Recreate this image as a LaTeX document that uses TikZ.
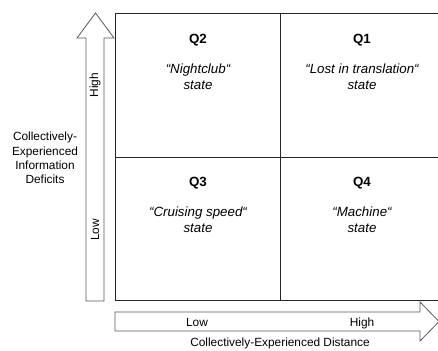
\documentclass[tikz,border=0pt]{standalone}
\usepackage{fontspec}
\setmainfont{Liberation Sans}
\tikzset{
  grid line/.style={black!85, line width=0.6pt},
  axis arrow/.style={black!65, line width=0.6pt},
  quad/.style={font=\bfseries},
  statetext/.style={font=\itshape, align=center},
}
\begin{document}
\begin{tikzpicture}[x=0.75pt,y=-0.75pt,font=\fontsize{8.9}{10.8}\selectfont]
\useasboundingbox (0,0) rectangle (438,350);

% matrix
\draw[grid line] (115,13) rectangle (446,300);
\draw[grid line] (280,13) -- (280,300);
\draw[grid line] (115,157) -- (446,157);

% axes
\draw[axis arrow] (86,301) -- (86,38) -- (77,38) -- (95.5,13) -- (114,38)
  -- (104,38) -- (104,301) -- cycle;
\draw[axis arrow] (115,312) -- (420,312) -- (420,302) -- (439,321.5)
  -- (420,341) -- (420,331) -- (115,331) -- cycle;

\node[rotate=90] (yhigh) at (95,85) {High};
\node[rotate=90] (ylow) at (95,230) {Low};
\node[anchor=base] (xlow) at (197,326) {Low};
\node[anchor=base] (xhigh) at (362,326) {High};

\node[align=center] (ylabel) at (45,158) {Collectively-\\Experienced\\Information\\Deficits};
\node (xlabel) at (280,343) {Collectively-Experienced Distance};

% quadrants
\node[quad] (q2) at (198,40) {Q2};
\node[quad] (q1) at (362,40) {Q1};
\node[quad] (q3) at (198,183) {Q3};
\node[quad] (q4) at (362,183) {Q4};

\node[statetext] (s2) at (198,77) {“Nightclub“\\state};
\node[statetext] (s1) at (362,77) {“Lost in translation“\\state};
\node[statetext] (s3) at (198,220) {“Cruising speed“\\state};
\node[statetext] (s4) at (362,220) {“Machine“\\state};
\end{tikzpicture}
\end{document}
